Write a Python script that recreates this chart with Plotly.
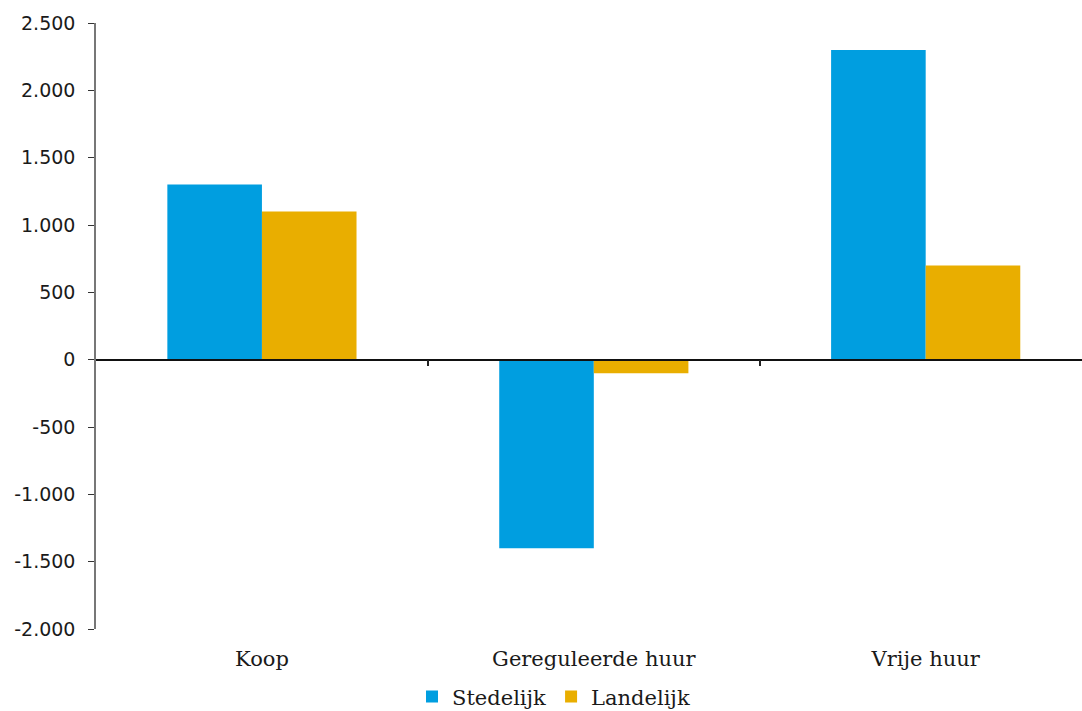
import plotly.graph_objects as go

categories = ["Koop", "Gereguleerde huur", "Vrije huur"]
stedelijk = [1300, -1400, 2300]
landelijk = [1100, -100, 700]
y_ticks = [-2000, -1500, -1000, -500, 0, 500, 1000, 1500, 2000, 2500]
y_tick_text = ["-2.000", "-1.500", "-1.000", "-500", "0", "500", "1.000", "1.500", "2.000", "2.500"]
separators = [0.5, 1.5]

BLUE = "#009ee0"
GOLD = "#e9ae00"
SERIF = "DejaVu Serif"
SANS = "DejaVu Sans"

fig = go.Figure()
fig.add_trace(go.Bar(x=categories, y=stedelijk, name="Stedelijk", marker_color=BLUE,
                     marker_line_width=0))
fig.add_trace(go.Bar(x=categories, y=landelijk, name="Landelijk", marker_color=GOLD,
                     marker_line_width=0))
# invisible helper so the separator axis on the zero line is drawn
fig.add_trace(go.Scatter(x=separators, y=[0, 0], xaxis="x2", mode="none",
                         showlegend=False, hoverinfo="skip"))

x_range = [-0.5, 2.471]

fig.update_layout(
    width=1082, height=711,
    margin=dict(l=96, r=0, t=23, b=82, autoexpand=False),
    paper_bgcolor="white", plot_bgcolor="white",
    barmode="group", bargap=0.43, bargroupgap=0,
    showlegend=True,
    legend=dict(orientation="h", x=0.464, xanchor="center",
                yref="container", y=0.02, yanchor="middle",
                font=dict(family=SERIF, size=21, color="#1a1a1a"),
                itemwidth=30, traceorder="normal"),
    xaxis=dict(range=x_range, showline=False, ticks="", showgrid=False, zeroline=False,
               tickfont=dict(family=SERIF, size=21, color="#1a1a1a"),
               ticklabelstandoff=15),
    xaxis2=dict(overlaying="x", anchor="free", position=0.4444, range=x_range,
                type="linear", tickvals=separators, showticklabels=False,
                ticks="outside", ticklen=6, tickwidth=1.5, tickcolor="#222",
                showline=True, linecolor="#111", linewidth=1.5,
                showgrid=False, zeroline=False),
    yaxis=dict(range=[-2000, 2500], tickvals=y_ticks, ticktext=y_tick_text,
               showgrid=False, zeroline=False, showline=True, linecolor="#777",
               linewidth=1.5, ticks="outside", ticklen=6, tickcolor="#333",
               tickwidth=1.2, ticklabelstandoff=9,
               tickfont=dict(family=SANS, size=19, color="#1a1a1a")),
)

fig.write_html("out.html")
